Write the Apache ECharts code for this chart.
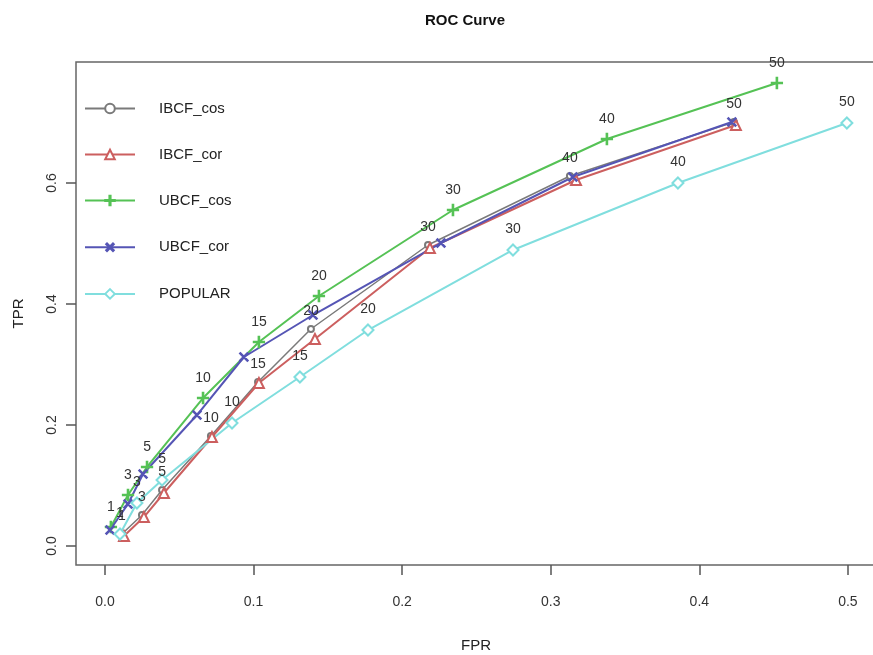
<!DOCTYPE html>
<html>
<head>
<meta charset="utf-8">
<title>ROC Curve</title>
<script src="https://cdn.jsdelivr.net/npm/echarts@6/dist/echarts.min.js"></script>
<style>
  html, body { margin: 0; padding: 0; background: #fff; }
  #chart { width: 873px; height: 655px; }
</style>
</head>
<body>
<div id="chart"></div>
<script>
// number of recommendations at each point
const nList = [1, 3, 5, 10, 15, 20, 30, 40, 50]

const ibcfCosFpr = [0.0114, 0.0249, 0.0384, 0.0713, 0.1030, 0.1386, 0.2174, 0.3129, 0.4233]
const ibcfCosTpr = [0.0198, 0.0512, 0.0926, 0.1818, 0.2711, 0.3587, 0.4975, 0.6116, 0.7008]

const ibcfCorFpr = [0.0128, 0.0262, 0.0397, 0.0720, 0.1036, 0.1413, 0.2187, 0.3170, 0.4246]
const ibcfCorTpr = [0.0165, 0.0479, 0.0876, 0.1802, 0.2694, 0.3421, 0.4926, 0.6050, 0.6959]

const ubcfCosFpr = [0.0040, 0.0155, 0.0283, 0.0660, 0.1036, 0.1440, 0.2342, 0.3378, 0.4522]
const ubcfCosTpr = [0.0314, 0.0843, 0.1306, 0.2446, 0.3372, 0.4132, 0.5554, 0.6727, 0.7653]

const ubcfCorFpr = [0.0034, 0.0155, 0.0256, 0.0619, 0.0935, 0.1400, 0.2261, 0.3149, 0.4219]
const ubcfCorTpr = [0.0264, 0.0694, 0.1190, 0.2165, 0.3124, 0.3818, 0.5008, 0.6099, 0.7008]

const popularFpr = [0.0101, 0.0215, 0.0384, 0.0855, 0.1312, 0.1770, 0.2746, 0.3856, 0.4993]
const popularTpr = [0.0198, 0.0711, 0.1091, 0.2033, 0.2793, 0.3570, 0.4893, 0.6000, 0.6992]

const xTicks = [0, 0.1, 0.2, 0.3, 0.4, 0.5]
const yTicks = [0, 0.2, 0.4, 0.6]

const FONT = '"Liberation Sans", Arial, sans-serif'

const plus = 'path://M0,4.4H10V5.6H0Z M4.4,0H5.6V10H4.4Z'

const pairs = (xs, ys) => xs.map((x, i) => [x, ys[i], nList[i]])

const mkSeries = (name, xs, ys, color, symbol, size, annotate, extra) => Object.assign({
    name: name,
    type: 'line',
    data: pairs(xs, ys),
    symbol: symbol,
    symbolSize: size,
    showAllSymbol: true,
    lineStyle: { color: color, width: 2 },
    itemStyle: { color: color, borderColor: color, borderWidth: 1.3 },
    label: {
        show: annotate,
        position: 'top',
        distance: 7,
        color: '#333',
        fontSize: 14,
        fontFamily: FONT,
        formatter: p => p.data[2]
    },
    emphasis: { disabled: true },
    animation: false
}, extra || {})

const chart = echarts.init(document.getElementById('chart'))

const option = {
    backgroundColor: '#fff',
    title: {
        text: 'ROC Curve',
        left: 420,
        top: 8,
        textStyle: { fontSize: 15, fontWeight: 'bold', fontFamily: FONT, color: '#111' }
    },
    legend: {
        orient: 'vertical',
        left: 84,
        top: 101,
        padding: 0,
        itemWidth: 50,
        itemHeight: 12,
        itemGap: 31,
        textStyle: { fontSize: 15, fontFamily: FONT, color: '#222', padding: [0, 0, 0, 19] }
    },
    grid: {
        left: 76,
        top: 62,
        width: 800,
        height: 503,
        outerBoundsMode: 'none',
        show: true,
        borderColor: '#666',
        borderWidth: 1.5
    },
    xAxis: {
        type: 'value',
        min: -0.0195,
        max: 0.5189,
        name: 'FPR',
        nameLocation: 'middle',
        nameGap: 73,
        nameTextStyle: { fontSize: 15, fontFamily: FONT, color: '#222' },
        axisLine: { show: false, onZero: false },
        splitLine: { show: false },
        axisTick: { show: true, length: 10, customValues: xTicks, lineStyle: { color: '#555', width: 1.5 } },
        axisLabel: {
            customValues: xTicks,
            margin: 30,
            fontSize: 14,
            fontFamily: FONT,
            color: '#333',
            formatter: v => v.toFixed(1)
        }
    },
    yAxis: {
        type: 'value',
        min: -0.0314,
        max: 0.8,
        name: 'TPR',
        nameLocation: 'middle',
        nameGap: 50,
        nameTextStyle: { fontSize: 15, fontFamily: FONT, color: '#222' },
        axisLine: { show: false, onZero: false },
        splitLine: { show: false },
        axisTick: { show: true, length: 10, customValues: yTicks, lineStyle: { color: '#555', width: 1.5 } },
        axisLabel: {
            customValues: yTicks,
            rotate: 90,
            margin: 17,
            fontSize: 14,
            fontFamily: FONT,
            color: '#333',
            formatter: v => v.toFixed(1)
        }
    },
    series: [
        mkSeries('IBCF_cos', ibcfCosFpr, ibcfCosTpr, '#7a7a7a', 'emptyCircle', 6, true, { lineStyle: { color: '#7a7a7a', width: 1.5 } }),
        mkSeries('IBCF_cor', ibcfCorFpr, ibcfCorTpr, '#cc5f5f', 'emptyTriangle', 10, false),
        mkSeries('UBCF_cos', ubcfCosFpr, ubcfCosTpr, '#55c255', plus, 11, true),
        mkSeries('UBCF_cor', ubcfCorFpr, ubcfCorTpr, '#5555b5', plus, 11, false, { symbolRotate: 45 }),
        mkSeries('POPULAR', popularFpr, popularTpr, '#80dede', 'emptyDiamond', 11, true)
    ]
}

chart.setOption(option)
</script>
</body>
</html>
